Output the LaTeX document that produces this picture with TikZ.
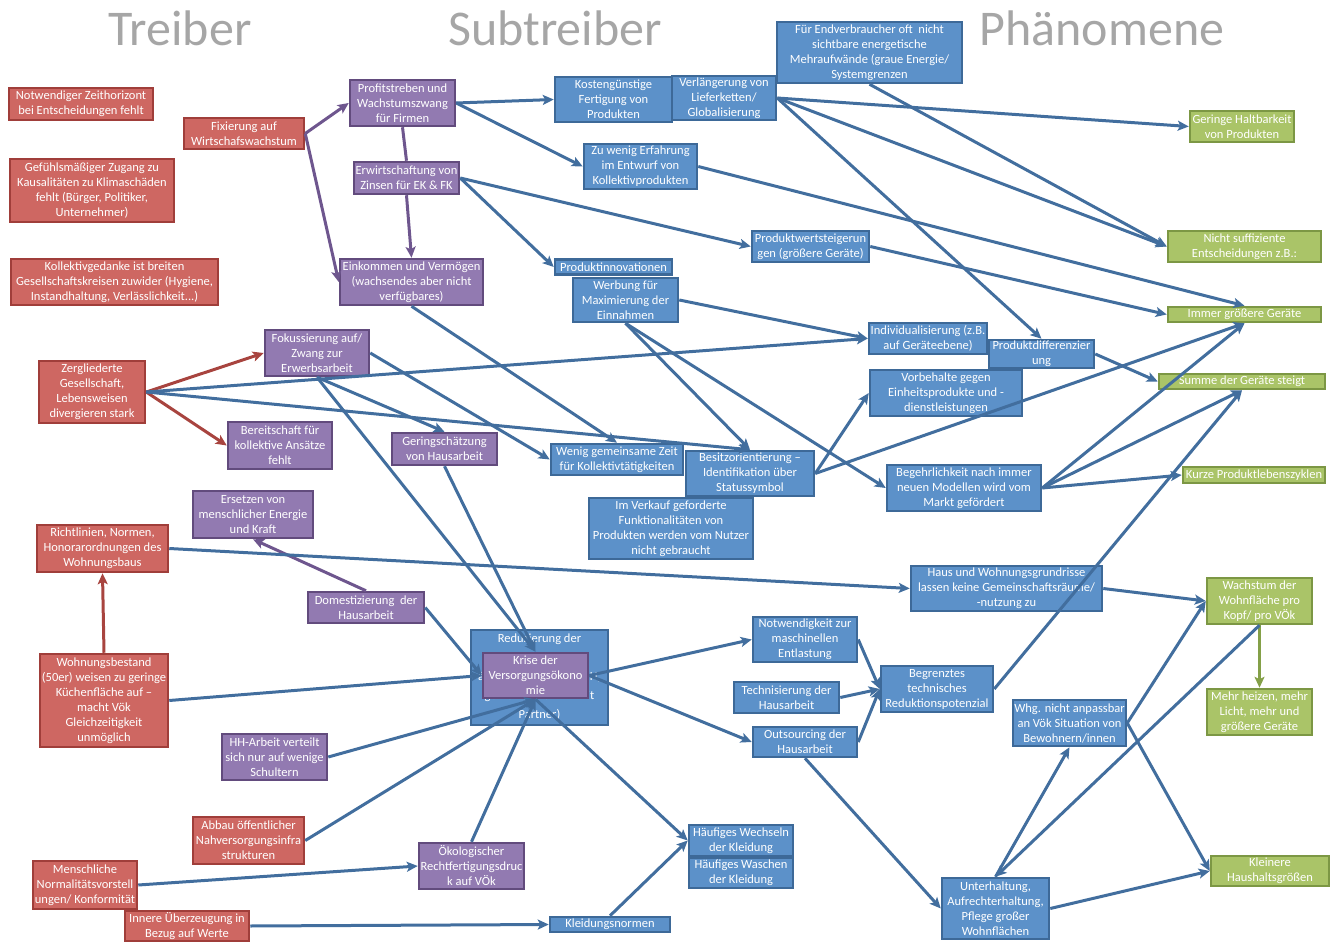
\documentclass[tikz,border=0pt]{standalone}
\usepackage{fontspec}
\setmainfont{Carlito}
\usetikzlibrary{arrows.meta}
\usetikzlibrary{calc}

\definecolor{treiberfill}{RGB}{206,103,98}
\definecolor{treiberrand}{RGB}{160,62,58}
\definecolor{subfill}{RGB}{146,122,177}
\definecolor{subrand}{RGB}{98,75,125}
\definecolor{blaufill}{RGB}{92,145,201}
\definecolor{blaurand}{RGB}{61,105,152}
\definecolor{gruenfill}{RGB}{170,196,104}
\definecolor{gruenrand}{RGB}{124,151,68}
\definecolor{kanteblau}{RGB}{66,110,158}
\definecolor{kantelila}{RGB}{110,86,142}
\definecolor{kanterot}{RGB}{168,68,63}
\definecolor{kantegruen}{RGB}{132,160,72}
\definecolor{titelgrau}{RGB}{166,166,166}

\begin{document}
\begin{tikzpicture}[%
		x=1pt, y=-1pt,
		>={Stealth[length=11pt,width=10pt,inset=2.5pt]},
		every node/.style={font=\fontsize{12.5}{15}\selectfont, align=center, inner sep=0pt, text=white},
		dim/.style 2 args={minimum width=#1pt, minimum height=#2pt},
		titel/.style={text=titelgrau, font=\fontsize{50}{60}\selectfont, anchor=base},
		treiberbox/.style={rectangle, draw=treiberrand, fill=treiberfill, line width=2.5pt},
		subbox/.style={rectangle, draw=subrand, fill=subfill, line width=2.5pt},
		wirkbox/.style={rectangle, draw=blaurand, fill=blaufill, line width=2.5pt},
		phaenbox/.style={rectangle, draw=gruenrand, fill=gruenfill, line width=2.5pt}
		]
		% (1339pt,944pt)
		\useasboundingbox (0,0) rectangle (1339,944);
		%%%%%%%%%%%%%%%
		%    NODES    %
		%%%%%%%%%%%%%%%
		\node[titel] (ttreiber) at (180,46) {Treiber};
		\node[titel] (tsub) at (555,46) {Subtreiber};
		\node[titel] (tphaen) at (1102,46) {Phänomene};
		
		% Treiber
		\node[treiberbox, dim={144}{32}] (zeit) at (81,104) {Notwendiger Zeithorizont\\bei Entscheidungen fehlt};
		\node[treiberbox, dim={120}{31}] (fix) at (244,133.5) {Fixierung auf\\Wirtschafswachstum};
		\node[treiberbox, dim={164}{63}] (gefuehl) at (92,190.5) {Gefühlsmäßiger Zugang zu\\Kausalitäten zu Klimaschäden\\fehlt (Bürger, Politiker,\\Unternehmer)};
		\node[treiberbox, dim={207}{46}] (kollektiv) at (114.5,282) {Kollektivgedanke ist breiten\\Gesellschaftskreisen zuwider (Hygiene,\\Instandhaltung, Verlässlichkeit...)};
		\node[treiberbox, dim={106}{62}] (zerg) at (92,392) {Zergliederte\\Gesellschaft,\\Lebensweisen\\divergieren stark};
		\node[treiberbox, dim={131}{47}] (richt) at (102.5,548.5) {Richtlinien, Normen,\\Honorarordnungen des\\Wohnungsbaus};
		\node[treiberbox, dim={128}{93}] (wbest) at (104,700.5) {Wohnungsbestand\\(50er) weisen zu geringe\\Küchenfläche auf --\\macht Vök\\Gleichzeitigkeit\\unmöglich};
		\node[treiberbox, dim={111}{47}] (abbau) at (248.5,840.5) {Abbau öffentlicher\\Nahversorgungsinfra\\strukturen};
		\node[treiberbox, dim={104}{48}] (norm) at (85,885) {Menschliche\\Normalitätsvorstell\\ungen/ Konformität};
		\node[treiberbox, dim={124}{30}] (innere) at (187,926) {Innere Überzeugung in\\Bezug auf Werte};
		
		% Subtreiber (lila)
		\node[subbox, dim={105}{46}] (profit) at (402.5,103) {Profitstreben und\\Wachstumszwang\\für Firmen};
		\node[subbox, dim={105}{32}] (zins) at (406.5,178) {Erwirtschaftung von\\Zinsen für EK \& FK};
		\node[subbox, dim={143}{46}] (eink) at (411.5,282) {Einkommen und Vermögen\\(wachsendes aber nicht\\verfügbares)};
		\node[subbox, dim={104}{46}] (fokus) at (317,353) {Fokussierung auf/\\Zwang zur\\Erwerbsarbeit};
		\node[subbox, dim={104}{47}] (bereit) at (280,445.5) {Bereitschaft für\\kollektive Ansätze\\fehlt};
		\node[subbox, dim={105}{32}] (gering) at (444.5,449) {Geringschätzung\\von Hausarbeit};
		\node[subbox, dim={120}{47}] (ersetz) at (253,514.5) {Ersetzen von\\menschlicher Energie\\und Kraft};
		\node[subbox, dim={116}{31}] (domest) at (366,607.5) {Domestizierung\ \ der\\Hausarbeit};
		\node[subbox, dim={105}{46}] (hhvert) at (274.5,757) {HH-Arbeit verteilt\\sich nur auf wenige\\Schultern};
		\node[subbox, dim={105}{46}] (oeko) at (471.5,866) {Ökologischer\\Rechtfertigungsdruc\\k auf VÖk};
		
		% Subtreiber (blau)
		\node[wirkbox, dim={117}{45}] (kosten) at (613.5,99.5) {Kostengünstige\\Fertigung von\\Produkten};
		\node[wirkbox, dim={104}{44}] (liefer) at (724,98) {Verlängerung von\\Lieferketten/\\Globalisierung};
		\node[wirkbox, dim={185}{61}] (grau) at (869.5,52.5) {Für Endverbraucher oft\ \ nicht\\sichtbare energetische\\Mehraufwände (graue Energie/\\Systemgrenzen};
		\node[wirkbox, dim={113}{45}] (erfahr) at (640.5,166.5) {Zu wenig Erfahrung\\im Entwurf von\\Kollektivprodukten};
		\node[wirkbox, dim={117}{31}] (wertst) at (810.5,246.5) {Produktwertsteigerun\\gen (größere Geräte)};
		\node[wirkbox, dim={117}{15}] (innov) at (613.5,267) {Produktinnovationen};
		\node[wirkbox, dim={105}{44}] (werbung) at (625.5,300) {Werbung für\\Maximierung der\\Einnahmen};
		\node[wirkbox, dim={118}{31}] (indiv) at (928,338.5) {Individualisierung (z.B.\\auf Geräteebene)};
		\node[wirkbox, dim={105}{28}] (diff) at (1041.5,354) {Produktdifferenzier\\ung};
		\node[wirkbox, dim={152}{46}] (vorbeh) at (946,393) {Vorbehalte gegen\\Einheitsprodukte und -\\dienstleistungen};
		\node[wirkbox, dim={132}{31}] (wenigzeit) at (617,459.5) {Wenig gemeinsame Zeit\\für Kollektivtätigkeiten};
		\node[wirkbox, dim={128}{45}] (besitz) at (750,473.5) {Besitzorientierung --\\Identifikation über\\Statussymbol};
		\node[wirkbox, dim={164}{61}] (verkauf) at (671,528.5) {Im Verkauf geforderte\\Funktionalitäten von\\Produkten werden vom Nutzer\\nicht gebraucht};
		\node[wirkbox, dim={154}{46}] (begehr) at (964,488) {Begehrlichkeit nach immer\\neuen Modellen wird vom\\Markt gefördert};
		\node[wirkbox, dim={191}{45}] (grundr) at (1006.5,588.5) {Haus und Wohnungsgrundrisse\\lassen keine Gemeinschaftsräume/\\-nutzung zu};
		\node[wirkbox, dim={137}{95}, font=\fontsize{12.5}{19}\selectfont] (reduz) at (539.5,677.5) {Reduzierung der\\Versorgungsarbeit\\ältere Menschen im HH,\\gemeinsamen HH mit\\Partner)};
		\node[subbox, dim={105}{45}] (krise) at (535.5,675.5) {Krise der\\Versorgungsökono\\mie};
		\node[wirkbox, dim={104}{45}] (notw) at (805,639.5) {Notwendigkeit zur\\maschinellen\\Entlastung};
		\node[wirkbox, dim={105}{31}] (techn) at (786.5,697.5) {Technisierung der\\Hausarbeit};
		\node[wirkbox, dim={104}{30}] (outs) at (805,742) {Outsourcing der\\Hausarbeit};
		\node[wirkbox, dim={112}{46}] (begr) at (937,689) {Begrenztes\\technisches\\Reduktionspotenzial};
		\node[wirkbox, dim={113}{46}] (whg) at (1069.5,723) {Whg. nicht anpassbar\\an Vök Situation von\\Bewohnern/innen};
		\node[wirkbox, dim={104}{31}] (wechs) at (741,840.5) {Häufiges Wechseln\\der Kleidung};
		\node[wirkbox, dim={104}{30}] (wasch) at (741,873) {Häufiges Waschen\\der Kleidung};
		\node[wirkbox, dim={120}{15}] (kleid) at (610,924.5) {Kleidungsnormen};
		\node[wirkbox, dim={107}{61}] (unterh) at (995.5,908.5) {Unterhaltung,\\Aufrechterhaltung,\\Pflege großer\\Wohnflächen};
		
		% Phaenomene
		\node[phaenbox, dim={104}{31}] (haltb) at (1242,126.5) {Geringe Haltbarkeit\\von Produkten};
		\node[phaenbox, dim={153}{31}] (nsuff) at (1244.5,246.5) {Nicht suffiziente\\Entscheidungen z.B.:};
		\node[phaenbox, dim={153}{15}] (groesser) at (1244.5,314.5) {Immer größere Geräte};
		\node[phaenbox, dim={166}{15}] (summe) at (1242,381.5) {Summe der Geräte steigt};
		\node[phaenbox, dim={142}{16}] (kurz) at (1254,475) {Kurze Produktlebenszyklen};
		\node[phaenbox, dim={105}{46}] (wfl) at (1259.5,601) {Wachstum der\\Wohnfläche pro\\Kopf/ pro VÖk};
		\node[phaenbox, dim={105}{46}] (mehr) at (1259.5,712) {Mehr heizen, mehr\\Licht, mehr und\\größere Geräte};
		\node[phaenbox, dim={118}{30}] (kleiner) at (1270,871) {Kleinere\\Haushaltsgrößen};
		
		%%%%%%%%%%%%%%%
		% CONNECTIONS %
		%%%%%%%%%%%%%%%
		
		\path[line width=3, kantelila, ->]
		(fix.east) edge (profit.west)
		(fix.east) edge (eink.west)
		(zins.south) edge (eink.north)
		(domest.north) edge (ersetz.south);
		
		\path[line width=3, kantelila]
		(profit.south) edge (zins.north);
		
		\path[line width=3, kanterot, ->]
		(zerg.east) edge (fokus.west)
		(zerg.east) edge (bereit.west)
		(wbest.north) edge (richt.south);
		
		\path[line width=3, kantegruen, ->]
		(wfl.south) edge (mehr.north);
		
		% Produkte
		\path[line width=3, kanteblau, ->]
		(profit.east) edge (kosten.west)
		(profit.east) edge (erfahr.west)
		(zins.east) edge (wertst.west)
		(zins.east) edge (innov.west)
		(liefer.east) edge (haltb.west)
		(liefer.east) edge (nsuff.west)
		(liefer.east) edge (diff.north)
		(grau.south) edge (nsuff.west)
		(erfahr.east) edge (groesser.north)
		(wertst.east) edge (groesser.west)
		(werbung.east) edge (indiv.west)
		(zerg.east) edge (indiv.west)
		(zerg.east) edge (besitz.north)
		(werbung.south) edge (besitz.north)
		(werbung.south) edge (begehr.west)
		(besitz.east) edge (vorbeh.west)
		(besitz.east) edge (groesser.south)
		(begehr.east) edge (groesser.south)
		(begehr.east) edge (summe.south)
		(begehr.east) edge (kurz.west)
		(diff.east) edge (summe.west)
		(begr.east) edge (summe.south);
		
		% Zeit und Hausarbeit
		\path[line width=3, kanteblau, ->]
		(eink.south) edge (wenigzeit.north)
		(fokus.east) edge (wenigzeit.west)
		(fokus.south) edge (gering.north)
		(fokus.south) edge (krise.north)
		(gering.south) edge (krise.north)
		(domest.east) edge (krise.west)
		(wbest.east) edge (krise.west)
		(hhvert.east) edge (krise.south)
		(abbau.east) edge (krise.south)
		(oeko.north) edge (krise.south)
		(norm.east) edge (oeko.west)
		(innere.east) edge (kleid.west)
		(kleid.north) edge (wechs.west)
		(krise.south) edge (wechs.west)
		(krise.east) edge (notw.west)
		(krise.east) edge (outs.west)
		(notw.east) edge (begr.west)
		(techn.east) edge (begr.west)
		(outs.east) edge (begr.west);
		
		% Wohnen
		\path[line width=3, kanteblau, ->]
		(richt.east) edge (grundr.west)
		(grundr.east) edge (wfl.west)
		(outs.south) edge (unterh.west)
		(unterh.north) edge (whg.south)
		(wfl.south) edge (unterh.north)
		(whg.east) edge (wfl.west)
		(whg.east) edge (kleiner.west)
		(unterh.east) edge (kleiner.west);
		
	\end{tikzpicture}
\end{document}
